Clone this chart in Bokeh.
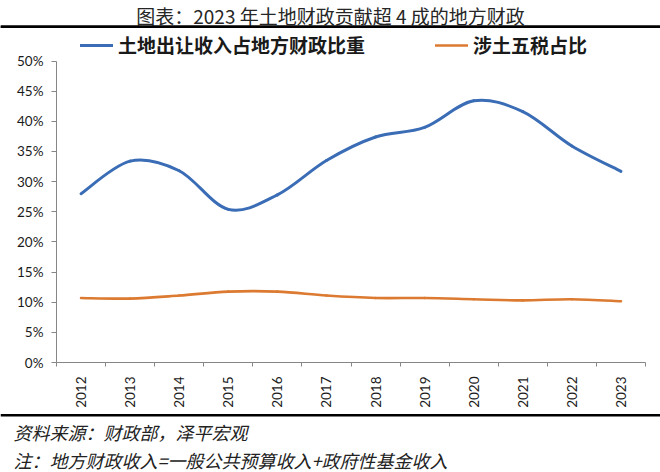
import math

import numpy as np
from bokeh.embed import file_html
from bokeh.models import (BoxAnnotation, ColumnDataSource, FixedTicker, Label, Legend, LegendItem,
                          LinearAxis, PrintfTickFormatter, Range1d, Span)
from bokeh.plotting import figure
from bokeh.resources import INLINE

# data (percent)
years = ["2012", "2013", "2014", "2015", "2016", "2017",
         "2018", "2019", "2020", "2021", "2022", "2023"]
land_sale_share = [28.0, 33.4, 31.8, 25.4, 27.8, 33.5, 37.4, 39.0, 43.4, 41.6, 35.9, 31.7]
land_tax_share = [10.7, 10.6, 11.1, 11.75, 11.75, 11.1, 10.7, 10.7, 10.5, 10.3, 10.5, 10.15]
y_ticks = [0, 5, 10, 15, 20, 25, 30, 35, 40, 45, 50]

series_names = ["土地出让收入占地方财政比重", "涉土五税占比"]
title_text = "图表：2023 年土地财政贡献超 4 成的地方财政"
source_text = "资料来源：财政部，泽平宏观"
note_text = "注：地方财政收入=一般公共预算收入+政府性基金收入"

BLUE = "#3A6DB5"
ORANGE = "#DB7A30"
CJK = "Noto Sans CJK SC"
AXIS_GREY = "#868686"

# canvas and plot-area geometry (px, from top-left of the figure)
W, H = 660, 472
PLOT_L, PLOT_R, PLOT_T, PLOT_B = 56, 645, 60.5, 362
N = len(years)
YMAX = y_ticks[-1]

# the frame covers the whole canvas so that title, rules and notes are not clipped;
# the ranges are widened so the data area lands on PLOT_L..PLOT_R / PLOT_T..PLOT_B
ppx = (PLOT_R - PLOT_L) / N
ppy = (PLOT_B - PLOT_T) / YMAX
x_range = Range1d(-PLOT_L / ppx, N + (W - PLOT_R) / ppx)
y_range = Range1d(-(H - PLOT_B) / ppy, YMAX + PLOT_T / ppy)


def ydata(py):
    """canvas y (px from top) -> data y"""
    return (PLOT_B - py) / ppy


def smooth_segments(vals):
    """Cubic bezier pieces through the points (Excel-style smoothed line)."""
    x = np.arange(len(vals)) + 0.5
    y = np.asarray(vals, dtype=float)
    xp = np.concatenate([[x[0]], x, [x[-1]]])
    yp = np.concatenate([[y[0]], y, [y[-1]]])
    i = np.arange(len(y) - 1)
    return dict(
        x0=x[:-1], y0=y[:-1], x1=x[1:], y1=y[1:],
        cx0=x[i] + (xp[i + 2] - xp[i]) / 6, cy0=y[i] + (yp[i + 2] - yp[i]) / 6,
        cx1=x[i + 1] - (xp[i + 3] - xp[i + 1]) / 6, cy1=y[i + 1] - (yp[i + 3] - yp[i + 1]) / 6,
    )


p = figure(width=W, height=H, x_range=x_range, y_range=y_range,
           output_backend="svg", toolbar_location=None, title=None,
           x_axis_location=None, y_axis_location=None, min_border=0)
p.outline_line_color = None
p.grid.visible = False
p.background_fill_color = "white"
p.border_fill_color = "white"

r_blue = p.bezier(source=ColumnDataSource(smooth_segments(land_sale_share)),
                  x0="x0", y0="y0", x1="x1", y1="y1", cx0="cx0", cy0="cy0", cx1="cx1", cy1="cy1",
                  line_color=BLUE, line_width=3, line_cap="round")
r_orange = p.bezier(source=ColumnDataSource(smooth_segments(land_tax_share)),
                    x0="x0", y0="y0", x1="x1", y1="y1", cx0="cx0", cy0="cy0", cx1="cx1", cy1="cy1",
                    line_color=ORANGE, line_width=2.6, line_cap="round")

# axes pinned at the data origin (they take no panel space)
yaxis = LinearAxis(fixed_location=0, bounds=(0, YMAX),
                   ticker=FixedTicker(ticks=y_ticks),
                   formatter=PrintfTickFormatter(format="%d%%"),
                   major_tick_out=5, major_tick_in=0, minor_tick_out=0, minor_tick_in=0,
                   major_label_standoff=8)
centers = [i + 0.5 for i in range(N)]
xaxis = LinearAxis(fixed_location=0, bounds=(0, N),
                   ticker=FixedTicker(ticks=centers, minor_ticks=list(range(N + 1))),
                   major_label_overrides={c: y for c, y in zip(centers, years)},
                   major_label_orientation=math.pi / 2,
                   major_tick_out=0, major_tick_in=0, minor_tick_out=4, minor_tick_in=0,
                   major_label_standoff=10)
for ax in (xaxis, yaxis):
    ax.axis_line_color = AXIS_GREY
    ax.major_tick_line_color = AXIS_GREY
    ax.minor_tick_line_color = AXIS_GREY
    ax.major_label_text_font = "Lato"
    ax.major_label_text_font_size = "13.5px"
    ax.major_label_text_color = "#1a1a1a"
p.add_layout(yaxis, "left")
p.add_layout(xaxis, "below")

# title and footnotes
p.add_layout(Label(x=330, y=H - 15, x_units="screen", y_units="screen", text=title_text,
                   text_align="center", text_baseline="middle", text_font=CJK,
                   text_font_size="19px", text_color="#262626"))
for text, y in ((source_text, 431.5), (note_text, 459)):
    p.add_layout(Label(x=13, y=H - y, x_units="screen", y_units="screen", text=text,
                       text_align="left", text_baseline="middle", text_font=CJK,
                       text_font_size="18px", text_font_style="italic", text_color="#222222"))

legend = Legend(items=[LegendItem(label=series_names[0], renderers=[r_blue]),
                       LegendItem(label=series_names[1], renderers=[r_orange])],
                orientation="horizontal", location=(80, H - 58),
                glyph_width=33, glyph_height=20, label_standoff=5, spacing=70,
                padding=0, margin=0, border_line_color=None, background_fill_color=None,
                label_text_font=CJK, label_text_font_style="bold",
                label_text_font_size="19px", label_text_color="#1a1a1a")
p.add_layout(legend)

# black rules under the title and above the notes, drawn on the overlay level
for mid in (26.25, 414.75):
    p.add_layout(Span(location=ydata(mid), dimension="width", level="overlay",
                      line_color="black", line_width=2.5))
p.add_layout(BoxAnnotation(top=ydata(25), bottom=ydata(27.5), level="overlay",
                           fill_color="black", fill_alpha=1, line_color=None))

open("out.html", "w").write(file_html(p, INLINE))
